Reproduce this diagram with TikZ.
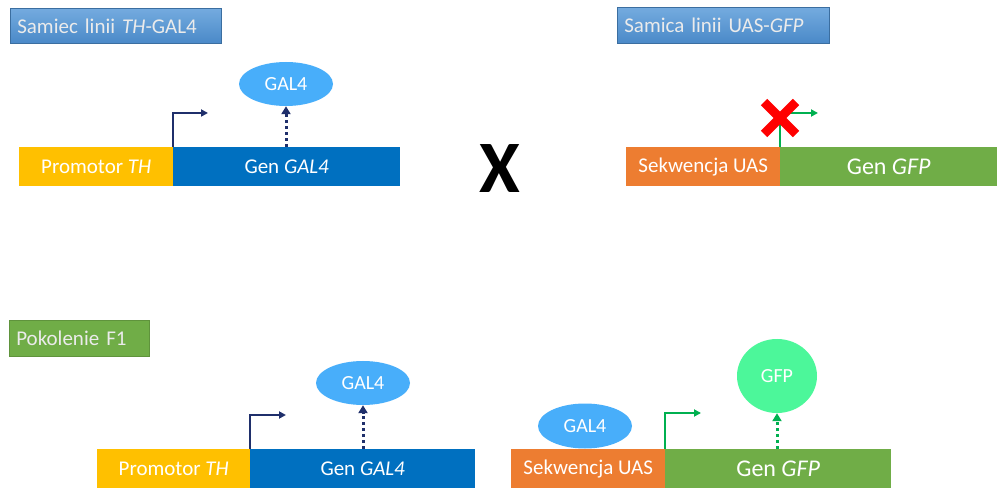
\documentclass[tikz,border=0pt]{standalone}
\usepackage{fontspec}
\setmainfont{Carlito}
\usetikzlibrary{arrows.meta,shapes.geometric,calc}
\definecolor{promo}{HTML}{FFC000}
\definecolor{genblue}{HTML}{0070C0}
\definecolor{uasorange}{HTML}{ED7D31}
\definecolor{gengreen}{HTML}{70AD47}
\definecolor{navy}{HTML}{1F2F6B}
\definecolor{arrgreen}{HTML}{00B050}
\definecolor{galblue}{HTML}{48AEFA}
\definecolor{gfpgreen}{HTML}{4CF79A}
\definecolor{titletop}{HTML}{74ABDF}
\definecolor{titlebot}{HTML}{4A89C8}
\tikzset{
  seg/.style={inner sep=0pt, minimum height=39pt, text=white, font=\fontsize{21}{24}\selectfont, anchor=north west},
  bigseg/.style={seg, font=\fontsize{24}{28}\selectfont},
  titlebox/.style={inner sep=0pt, anchor=north west, text=white!92!black, font=\fontsize{21}{24}\selectfont, align=left},
  bluetitle/.style={titlebox, top color=titletop, bottom color=titlebot, draw=titlebot!80!black, line width=0.6pt},
  greentitle/.style={titlebox, fill=gengreen, draw=gengreen!85!black, line width=0.6pt},
  prot/.style={ellipse, inner sep=0pt, text=white, font=\fontsize{20}{22}\selectfont},
  promarrow/.style={line width=2pt, -{Triangle[length=7pt,width=7pt]}},
  exprarrow/.style={line width=3pt, dash pattern=on 3pt off 3pt, -{Triangle[length=8pt,width=9pt]}},
}
\begin{document}
\begin{tikzpicture}[x=1pt,y=-1pt]
\useasboundingbox (0,0) rectangle (997,489);
\fill[white] (0,0) rectangle (997,489);

% group titles
\node[bluetitle, minimum width=211pt, minimum height=35pt, text width=203pt] (t1) at (10,8) {\hspace*{3pt}Samiec linii \textit{TH}-GAL4};
\node[bluetitle, minimum width=212pt, minimum height=36pt, text width=204pt] (t2) at (617,7) {\hspace*{3pt}Samica linii UAS-\textit{GFP}};
\node[greentitle, minimum width=140pt, minimum height=36pt, text width=132pt] (t3) at (9,320) {\hspace*{3pt}Pokolenie F1};

% male: TH promoter + GAL4 gene
\node[seg, fill=promo, minimum width=154pt] (p1) at (19,147) {Promotor \textit{TH}};
\node[seg, fill=genblue, minimum width=227pt] (g1) at (173,147) {Gen \textit{GAL4}};
\node[prot, fill=galblue, minimum width=94pt, minimum height=44pt] (gal1) at (286,84) {GAL4};
\coordinate (a1) at (208,113);
\draw[navy, promarrow] (p1.north east) -- ++(0,-34) -- (a1);
\draw[navy, exprarrow] (286,147) -- (gal1.south);

% cross sign
\node[font=\fontsize{74}{74}\selectfont\bfseries, inner sep=0pt] (cross) at (500,169) {X};

% female: UAS + GFP gene, silent
\node[seg, fill=uasorange, minimum width=154pt] (u1) at (626,147) {Sekwencja UAS};
\node[bigseg, fill=gengreen, minimum width=217pt] (f1) at (780,147) {Gen \textit{GFP}};
\coordinate (a2) at (818,113);
\draw[arrgreen, promarrow] (u1.north east) -- ++(0,-34) -- (a2);
\coordinate (xmark) at (780,118);
\draw[red, line width=9pt] ($(xmark)+(-16,-16)$) -- ($(xmark)+(16,16)$);
\draw[red, line width=9pt] ($(xmark)+(16,-16)$) -- ($(xmark)+(-16,16)$);

% F1: TH-GAL4 construct
\node[seg, fill=promo, minimum width=153pt] (p2) at (97,449) {Promotor \textit{TH}};
\node[seg, fill=genblue, minimum width=225pt] (g2) at (250,449) {Gen \textit{GAL4}};
\node[prot, fill=galblue, minimum width=94pt, minimum height=44pt] (gal2) at (363,383) {GAL4};
\coordinate (a3) at (286,415);
\draw[navy, promarrow] (p2.north east) -- ++(0,-34) -- (a3);
\draw[navy, exprarrow] (363,449) -- (gal2.south);

% F1: UAS-GFP construct, active
\node[seg, fill=uasorange, minimum width=154pt] (u2) at (511,449) {Sekwencja UAS};
\node[bigseg, fill=gengreen, minimum width=226pt] (f2) at (665,449) {Gen \textit{GFP}};
\node[prot, fill=galblue, minimum width=94pt, minimum height=45pt] (gal3) at (585,426) {GAL4};
\node[prot, fill=gfpgreen, minimum width=80pt, minimum height=74pt] (gfp) at (777,376) {GFP};
\coordinate (a4) at (701,413);
\draw[arrgreen, promarrow] (u2.north east) -- ++(0,-36) -- (a4);
\draw[arrgreen, exprarrow] (777,449) -- (gfp.south);
\end{tikzpicture}
\end{document}
